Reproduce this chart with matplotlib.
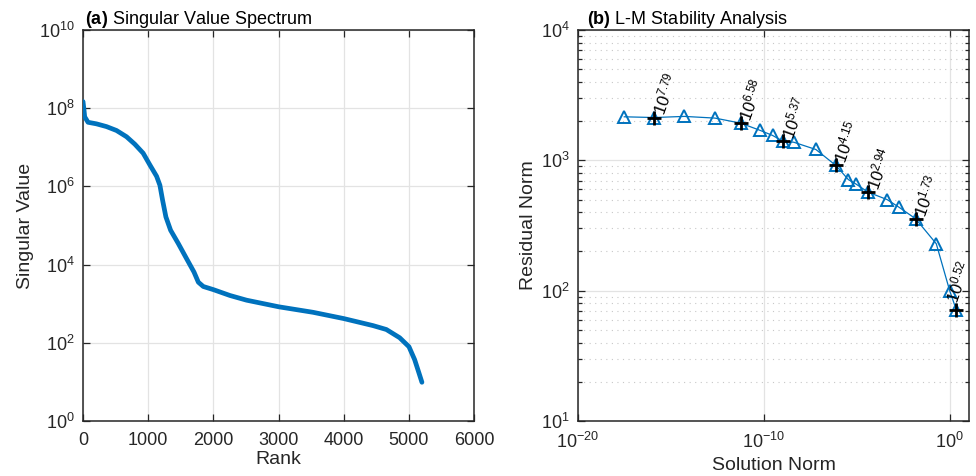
import numpy as np
import matplotlib
matplotlib.use("Agg")
import matplotlib.pyplot as plt
from matplotlib.ticker import LogLocator, FixedLocator, NullLocator, LogFormatterMathtext

plt.rcParams["font.family"] = ["Liberation Sans", "DejaVu Sans"]
plt.rcParams["mathtext.fontset"] = "custom"
plt.rcParams["mathtext.rm"] = "Liberation Sans"
plt.rcParams["mathtext.it"] = "Liberation Sans"
plt.rcParams["mathtext.bf"] = "Liberation Sans:bold"
plt.rcParams["mathtext.default"] = "regular"

BLUE = "#0072BD"
DARK = "#262626"

# (a) singular value spectrum (rank, log10 value)
sv_rank = [0, 15, 26, 77, 206, 360, 514, 668, 795, 923, 1026, 1129, 1180, 1221,
           1272, 1344, 1462, 1590, 1703, 1770, 1846, 2000, 2255, 2510, 3006,
           3530, 4000, 4450, 4655, 4859, 5002, 5089, 5155, 5201]
sv_log10 = [8.17, 7.96, 7.78, 7.64, 7.60, 7.53, 7.43, 7.27, 7.08, 6.85, 6.55, 6.26,
            6.03, 5.65, 5.22, 4.88, 4.54, 4.15, 3.81, 3.55, 3.44, 3.36, 3.21, 3.09,
            2.92, 2.78, 2.62, 2.44, 2.34, 2.13, 1.90, 1.57, 1.23, 0.99]

# (b) L-curve points: solution norm (log10) and residual norm
sol_log10 = [-17.51, -15.90, -14.28, -12.63, -11.25, -10.22, -9.53, -8.96, -8.39,
             -7.20, -6.13, -5.45, -5.05, -4.39, -3.37, -2.73, -1.83, -0.72, 0.0, 0.36]
res_norm = [2158, 2130, 2173, 2109, 1930, 1702, 1552, 1400, 1377, 1211, 915, 711,
            659, 570, 500, 437, 356, 229, 100, 71]
mark_idx = [1, 4, 7, 10, 13, 16, 19]
mark_labels = ["7.79", "6.58", "5.37", "4.15", "2.94", "1.73", "0.52"]

fig = plt.figure(figsize=(9.76, 4.76), dpi=100)
ax1 = fig.add_axes([83 / 976, 55 / 476, 391 / 976, 391 / 476])
ax2 = fig.add_axes([578 / 976, 55 / 476, 391 / 976, 391 / 476])

ax1.plot(sv_rank, 10 ** np.array(sv_log10), color=BLUE, lw=3.4,
         solid_capstyle="round", zorder=3)
ax1.set_yscale("log")
ax1.set_xlim(0, 6000)
ax1.set_ylim(1, 1e10)
ax1.set_xticks(range(0, 6001, 1000))
ax1.yaxis.set_major_locator(FixedLocator([1e0, 1e2, 1e4, 1e6, 1e8, 1e10]))
ax1.yaxis.set_major_formatter(LogFormatterMathtext())
ax1.yaxis.set_minor_locator(NullLocator())
ax1.grid(True, which="major", color="#e3e3e3", lw=0.9, zorder=0)
ax1.set_xlabel("Rank", fontsize=14, color=DARK)
ax1.set_ylabel("Singular Value", fontsize=14, color=DARK)
ax1.xaxis.set_label_coords(0.5, -0.076)
ax1.yaxis.set_label_coords(-0.125, 0.5)
t1 = ax1.set_title(r"$\mathbf{(a)}$ Singular Value Spectrum", loc="left",
                   fontsize=13, color="black", pad=3)
t1.set_x(0.005)

sol = 10 ** np.array(sol_log10)
res = np.array(res_norm, dtype=float)
ax2.plot(sol, res, color=BLUE, lw=0.9, marker="^", ms=9, mfc="none",
         mec=BLUE, mew=1.4, zorder=3)
ax2.plot(sol[mark_idx], res[mark_idx], ls="none", marker="+", ms=10,
         mew=2, color="black", zorder=4)
for k, (i, lab) in enumerate(zip(mark_idx, mark_labels)):
    # the last label sits at the figure edge, nudge it left so it stays visible
    off = (2.5, 2.5) if k < len(mark_idx) - 1 else (-4, 6)
    ax2.annotate(r"$10^{%s}$" % lab, (sol[i], res[i]), xytext=off,
                 textcoords="offset points", rotation=70,
                 rotation_mode="anchor", ha="left", va="center",
                 fontsize=12, color="black", zorder=5)
ax2.set_xscale("log")
ax2.set_yscale("log")
ax2.set_xlim(1e-20, 10 ** 1.04)
ax2.set_ylim(10, 1e4)
ax2.xaxis.set_major_locator(FixedLocator([1e-20, 1e-10, 1e0]))
ax2.xaxis.set_major_formatter(LogFormatterMathtext())
ax2.xaxis.set_minor_locator(NullLocator())
ax2.yaxis.set_major_locator(FixedLocator([1e1, 1e2, 1e3, 1e4]))
ax2.yaxis.set_major_formatter(LogFormatterMathtext())
ax2.yaxis.set_minor_locator(LogLocator(base=10, subs=np.arange(2, 10)))
ax2.grid(True, which="major", color="#e3e3e3", lw=0.9, zorder=0)
ax2.grid(True, which="minor", axis="y", color="#c8c8c8", lw=0.8,
         ls=(0, (1, 4)), zorder=0)
ax2.set_xlabel("Solution Norm", fontsize=14, color=DARK)
ax2.set_ylabel("Residual Norm", fontsize=14, color=DARK)
ax2.xaxis.set_label_coords(0.5, -0.093)
ax2.yaxis.set_label_coords(-0.104, 0.5)
t2 = ax2.set_title(r"$\mathbf{(b)}$ L-M Stability Analysis", loc="left",
                   fontsize=13, color="black", pad=3)
t2.set_x(0.023)

for ax in (ax1, ax2):
    for sp in ax.spines.values():
        sp.set_color(DARK)
        sp.set_linewidth(1.1)
    ax.tick_params(which="both", direction="in", top=True, right=True,
                   colors=DARK, labelsize=13, width=0.9)
    ax.tick_params(which="major", length=5)
    ax.tick_params(axis="x", which="major", pad=8)
    ax.tick_params(axis="y", which="major", pad=6)
    ax.tick_params(which="minor", length=3)
    ax.set_axisbelow(True)

fig.savefig("out.png", dpi=100)
